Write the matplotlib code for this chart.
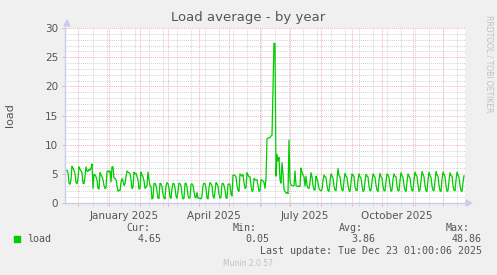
import matplotlib
matplotlib.use("Agg")
import matplotlib.pyplot as plt
import pandas as pd

# daily load averages, one row per 7 days, starting 2024-11-18
load_part1 = [
    5.4, 5.6, 5.6, 5.2, 3.4, 3.2, 4.0,
    6.3, 6.0, 5.6, 5.0, 3.5, 3.3, 4.2,
    6.2, 5.8, 5.5, 5.2, 3.4, 3.3, 4.5,
    6.2, 5.5, 5.4, 5.8, 5.6, 6.0, 6.7,
    2.5, 4.9, 4.8, 4.5, 4.0, 2.5, 2.4,
    5.2, 4.8, 4.5, 4.0, 3.0, 2.5, 2.6,
    5.4, 5.5, 5.3, 5.5, 3.6, 6.2, 6.2,
    4.3, 4.2, 4.0, 3.0, 2.0, 2.2, 2.1,
    3.5, 4.2, 3.8, 3.0, 3.3, 4.5, 5.5,
    5.3, 5.2, 5.0, 4.0, 2.5, 2.7, 5.3,
    5.0, 5.1, 4.5, 4.0, 2.4, 2.5, 5.3,
    4.8, 4.5, 3.8, 2.5, 2.7, 3.0, 5.3,
]
load_part2 = [
    4.0, 3.0, 2.8, 0.7, 0.9, 3.3, 3.4,
    3.0, 2.0, 0.8, 0.8, 3.4, 3.3, 2.8,
    1.5, 0.9, 0.7, 3.0, 3.5, 3.3, 2.5,
    1.0, 0.8, 2.5, 3.4, 3.3, 2.6, 1.2,
    0.8, 2.0, 3.4, 3.3, 3.0, 1.5, 0.7,
    0.8, 3.3, 3.4, 2.8, 1.3, 0.8, 0.9,
    3.2, 3.3, 3.0, 2.0, 1.0, 0.9, 1.8,
    0.8, 0.9, 0.8, 0.7, 1.2, 3.0, 3.4,
    3.3, 2.5, 0.9, 0.7, 2.6, 3.5, 3.3,
    3.0, 1.2, 0.8, 2.0, 3.5, 3.3, 2.9,
    1.5, 0.8, 1.0, 3.3, 3.4, 3.0, 2.2,
    0.9, 0.8, 3.2, 3.3, 3.1, 1.5, 1.2,
]
load_part3 = [
    4.8, 4.8, 4.7, 4.5, 3.0, 2.2, 2.0,
    5.0, 4.8, 4.6, 4.9, 3.5, 2.5, 2.6,
    5.2, 4.8, 4.5, 4.5, 3.0, 2.0, 2.1,
    4.2, 4.0, 3.9, 4.0, 3.0, 2.0, 2.1,
    4.0, 3.9, 3.8, 3.5, 2.5, 4.2, 11.0,
    11.1, 11.2, 11.2, 11.5, 11.6, 19.5, 27.4,
    27.3, 4.6, 8.3, 7.2, 7.8, 4.0, 3.4,
    6.9, 5.0, 2.3, 2.0, 1.7, 1.8, 1.6,
    10.8, 3.7, 3.1, 3.0, 2.9, 3.0, 5.5,
    3.0, 2.9, 2.8, 2.9, 2.8, 6.0, 5.3,
    4.8, 4.5, 2.9, 4.6, 3.0, 2.6, 2.5,
    3.5, 5.2, 4.5, 3.0, 2.3, 2.2, 4.6,
    4.2, 3.5, 2.5, 2.2, 2.1, 2.3,
]
load_part4 = [
    3.8, 4.8, 4.5, 4.4, 3.0, 2.1, 2.0,
    3.6, 5.0, 4.6, 4.3, 2.9, 2.2, 2.1,
    4.0, 5.9, 4.7, 4.5, 3.1, 2.2, 2.1,
    3.8, 5.1, 4.6, 4.4, 3.0, 2.1, 2.0,
    3.5, 5.0, 4.8, 4.5, 2.8, 2.2, 2.1,
    3.9, 5.0, 4.5, 4.3, 3.0, 2.0, 2.1,
    3.7, 4.9, 4.6, 4.5, 2.9, 2.1, 2.2,
    3.6, 5.0, 4.7, 4.4, 3.1, 2.2, 2.0,
    3.9, 5.1, 4.5, 4.3, 2.8, 2.1, 2.1,
    3.7, 5.0, 4.8, 4.4, 3.0, 2.0, 2.2,
    4.0, 5.0, 4.6, 4.5, 2.9, 2.1, 2.1,
    3.8, 5.2, 4.7, 4.4, 3.0, 2.2, 2.0,
    3.6, 5.0, 4.6, 4.3, 2.9, 2.1, 2.1,
    4.0, 5.3, 4.8, 4.6, 3.1, 2.0, 2.2,
    3.8, 5.4, 4.9, 4.5, 3.0, 2.1, 2.0,
    3.9, 5.3, 4.7, 4.4, 2.9, 2.2, 2.1,
    3.7, 5.4, 4.8, 4.6, 3.1, 2.1, 2.0,
    4.0, 5.3, 4.9, 4.5, 3.0, 2.0, 2.1,
    3.8, 5.2, 4.7, 4.6, 2.9, 2.2, 2.1,
    3.9, 5.3, 4.8, 4.4, 3.0, 2.1, 2.0,
    3.5, 4.65,
]
load = load_part1 + load_part2 + load_part3 + load_part4

start = pd.Timestamp("2024-11-18")
end = start + pd.Timedelta(days=400)
dates = pd.date_range(start, periods=len(load), freq="D")

month_labels = ["January 2025", "April 2025", "July 2025", "October 2025"]
label_dates = pd.to_datetime(["2025-01-16", "2025-04-16", "2025-07-16", "2025-10-16"])

stats_names = ["Cur:", "Min:", "Avg:", "Max:"]
stats_values = ["4.65", "0.05", "3.86", "48.86"]

bg = "#f0f0f0"
axis_col = "#ccccee"
text_col = "#555555"
major_col = "#f0b4b4"
minor_col = "#d4d4d4"

fig = plt.figure(figsize=(4.97, 2.75), dpi=100, facecolor=bg)
ax = fig.add_axes([65 / 497, 72 / 275, 400 / 497, 175 / 275])
ax.set_facecolor("white")

ax.plot(dates, load, color="#00cc00", lw=0.9)

ax.set_xlim(start, end)
ax.set_ylim(0, 30)

# grid lines
month_starts = pd.date_range("2024-12-01", "2025-12-01", freq="MS")
biweekly = pd.date_range("2024-12-16", end, freq="14D")
for d in biweekly:
    ax.axvline(d, color=minor_col, lw=0.7, ls=(0, (1, 1)), zorder=0)
for d in month_starts:
    ax.axvline(d, color=major_col, lw=0.7, ls=(0, (1, 1)), zorder=0)
for v in range(1, 30):
    if v % 5:
        ax.axhline(v, color=minor_col, lw=0.7, ls=(0, (1, 1)), zorder=0)
for v in range(5, 31, 5):
    ax.axhline(v, color=major_col, lw=0.7, ls=(0, (1, 1)), zorder=0)

ax.set_xticks(month_starts)
ax.set_xticklabels([])
ax.set_xticks(biweekly, minor=True)
ax.tick_params(axis="x", which="major", length=2, color=major_col)
ax.tick_params(axis="x", which="minor", length=2, color=minor_col)
for d, lab in zip(label_dates, month_labels):
    ax.text(d, -1.4, lab, ha="center", va="top", fontsize=7.5, color=text_col)

ax.set_yticks(range(0, 31, 5))
ax.set_yticklabels([str(v) for v in range(0, 31, 5)], fontsize=7.5, color=text_col)
ax.tick_params(axis="y", which="major", length=2, color=major_col, pad=3)

for s in ["top", "right"]:
    ax.spines[s].set_visible(False)
for s in ["left", "bottom"]:
    ax.spines[s].set_color(axis_col)
    ax.spines[s].set_linewidth(1.0)

# axis arrows
fig.patches.append(plt.Polygon([[64 / 497, 249 / 275], [70 / 497, 249 / 275], [67 / 497, 255 / 275]],
                               closed=True, transform=fig.transFigure, color=axis_col))
fig.patches.append(plt.Polygon([[466 / 497, 69 / 275], [466 / 497, 75 / 275], [472 / 497, 72 / 275]],
                               closed=True, transform=fig.transFigure, color=axis_col))

fig.text(248 / 497, 1 - 18 / 275, "Load average - by year", ha="center", va="center",
         fontsize=9.5, color=text_col)
fig.text(10 / 497, 1 - 115 / 275, "load", rotation=90, ha="center", va="center",
         fontsize=8, color=text_col)
fig.text(489 / 497, 1 - 15 / 275, "RRDTOOL / TOBI OETIKER", rotation=270, ha="center", va="top",
         fontsize=5.5, color="#c0c0c0")

# legend
mono = "DejaVu Sans Mono"
fig.patches.append(plt.Rectangle((14 / 497, 1 - 242 / 275), 6 / 497, 6 / 275,
                                 transform=fig.transFigure, color="#00cc00"))
fig.text(27 / 497, 1 - 239 / 275, "load", ha="left", va="center", family=mono, fontsize=7.2, color=text_col)
name_x = [150, 257, 363, 470]
value_x = [162, 269, 375, 482]
for nx, vx, n, v in zip(name_x, value_x, stats_names, stats_values):
    fig.text(nx / 497, 1 - 228 / 275, n, ha="right", va="center", family=mono, fontsize=7.2, color=text_col)
    fig.text(vx / 497, 1 - 239 / 275, v, ha="right", va="center", family=mono, fontsize=7.2, color=text_col)
fig.text(482 / 497, 1 - 251 / 275, "Last update: Tue Dec 23 01:00:06 2025", ha="right", va="center",
         family=mono, fontsize=7.2, color=text_col)
fig.text(248 / 497, 1 - 264 / 275, "Munin 2.0.57", ha="center", va="center", fontsize=5.5, color="#c0c0c0")

fig.savefig("out.png", dpi=100, facecolor=bg)
